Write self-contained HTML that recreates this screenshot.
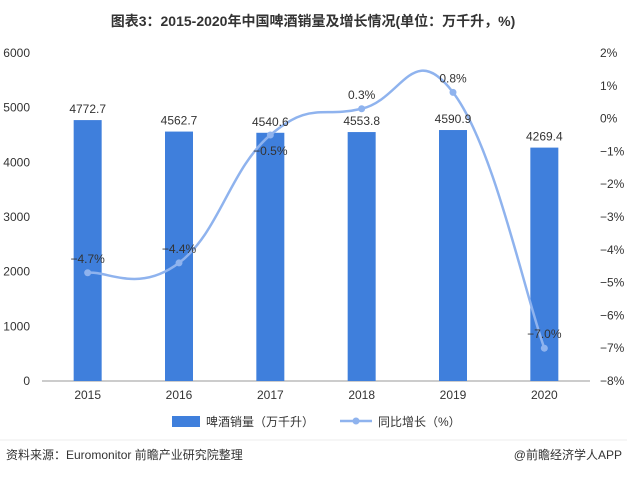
<!DOCTYPE html>
<html><head><meta charset="utf-8"><style>
body{margin:0;background:#fff;font-family:"Liberation Sans","Noto Sans CJK SC",sans-serif;}
</style></head><body>
<svg width="627" height="473" viewBox="0 0 627 473" xmlns="http://www.w3.org/2000/svg">
<text x="313" y="26" text-anchor="middle" font-size="14" font-weight="bold" fill="#333" font-family="Liberation Sans,Noto Sans CJK SC,sans-serif">图表3：2015-2020年中国啤酒销量及增长情况(单位：万千升，%)</text>
<g id="axes"></g>
<g id="bars"></g>
<g id="line"></g>
<g id="labels"></g>
<g>
<rect x="172" y="416" width="28" height="11" fill="#3f7fdc"/>
<text x="206" y="426" font-size="12" fill="#333">啤酒销量（万千升）</text>
<line x1="340" y1="421" x2="372" y2="421" stroke="#8fb3ee" stroke-width="2.5"/>
<circle cx="356" cy="421" r="3.5" fill="#8fb3ee"/>
<text x="378" y="426" font-size="12" fill="#333">同比增长（%）</text>
</g>
<line x1="0" y1="440" x2="627" y2="440" stroke="#eee"/>
<text x="6" y="459" font-size="12" fill="#333">资料来源：Euromonitor 前瞻产业研究院整理</text>
<text x="622" y="459" text-anchor="end" font-size="12" fill="#333">@前瞻经济学人APP</text>
</svg>
<script>
const categories=["2015","2016","2017","2018","2019","2020"];
const volumes=[4772.7,4562.7,4540.6,4553.8,4590.9,4269.4];
const growth=[-4.7,-4.4,-0.5,0.3,0.8,-7.0];
const leftTicks=[0,1000,2000,3000,4000,5000,6000];
const rightTicks=[2,1,0,-1,-2,-3,-4,-5,-6,-7,-8];
const NS="http://www.w3.org/2000/svg";
const top0=53,bot=381,x0=42,x1=590;
const yL=v=>bot-(v/6000)*(bot-top0);
const yR=v=>top0+(2-v)/10*(bot-top0);
const step=(x1-x0)/categories.length;
const xC=i=>x0+step*(i+0.5);
function mk(tag,attrs,parent,text){const e=document.createElementNS(NS,tag);for(const k in attrs)e.setAttribute(k,attrs[k]);if(text!==undefined)e.textContent=text;document.getElementById(parent).appendChild(e);return e;}
const ax=mk("line",{x1:x0,y1:bot,x2:x1,y2:bot,stroke:"#999"},"axes");


leftTicks.forEach(t=>{const e=mk("text",{x:30,y:yL(t)+4,"text-anchor":"end","font-size":12,fill:"#333"},"axes",t);

});
rightTicks.forEach(t=>{const e=mk("text",{x:600,y:yR(t)+4,"font-size":12,fill:"#333"},"axes",(t<0?"−":"")+Math.abs(t)+"%");

});
categories.forEach((c,i)=>{const e=mk("text",{x:xC(i),y:399,"text-anchor":"middle","font-size":12,fill:"#333"},"axes",c);

});
volumes.forEach((v,i)=>{const bw=28;
const r=mk("rect",{x:xC(i)-bw/2,y:yL(v),width:bw,height:bot-yL(v),fill:"#3f7fdc"},"bars");


const t=mk("text",{x:xC(i),y:yL(v)-7,"text-anchor":"middle","font-size":12,fill:"#333"},"labels",v.toFixed(1));

});
const pts=growth.map((g,i)=>[xC(i),yR(g)]);
let d="M"+pts[0][0]+","+pts[0][1];
const k=4.5;
for(let i=0;i<pts.length-1;i++){const p0=pts[Math.max(0,i-1)],p1=pts[i],p2=pts[i+1],p3=pts[Math.min(pts.length-1,i+2)];
const c1=[p1[0]+(p2[0]-p0[0])/k,p1[1]+(p2[1]-p0[1])/k],c2=[p2[0]-(p3[0]-p1[0])/k,p2[1]-(p3[1]-p1[1])/k];
d+=" C"+c1+" "+c2+" "+p2;}
const path=mk("path",{d:d,fill:"none",stroke:"#8fb3ee","stroke-width":2.5},"line");


growth.forEach((g,i)=>{const c=mk("circle",{cx:pts[i][0],cy:pts[i][1],r:3.5,fill:"#8fb3ee"},"line");


const below=(i===2);
const t=mk("text",{x:pts[i][0],y:below?pts[i][1]+20:pts[i][1]-10,"text-anchor":"middle","font-size":12,fill:"#333"},"labels",(g<0?"−":"")+Math.abs(g).toFixed(1)+"%");

});
</script>
</body></html>
